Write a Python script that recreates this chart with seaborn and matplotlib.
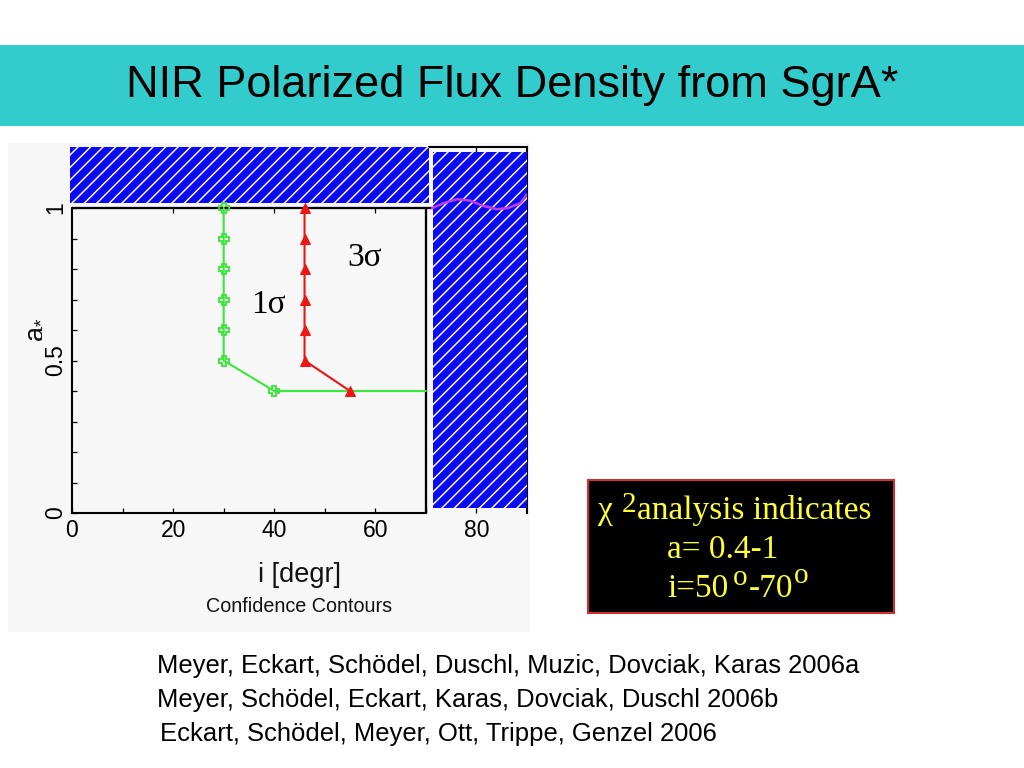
import matplotlib
matplotlib.use("Agg")
import matplotlib.pyplot as plt
from matplotlib.patches import Rectangle
import pandas as pd
import seaborn as sns

# ---------------------------------------------------------------------------
# Data: confidence contours in the (i, a*) plane
# ---------------------------------------------------------------------------
inc_1sig = [30, 30, 30, 30, 30, 30, 40, 70]
spin_1sig = [1.0, 0.9, 0.8, 0.7, 0.6, 0.5, 0.4, 0.4]
inc_3sig = [46, 46, 46, 46, 46, 46, 55]
spin_3sig = [1.0, 0.9, 0.8, 0.7, 0.6, 0.5, 0.4]

# magenta curve over the excluded high-inclination region
inc_wave = [71.2, 73.5, 76.2, 78.8, 81.3, 84.1, 86.3, 88.7, 90.0]
spin_wave = [0.999, 1.016, 1.029, 1.024, 1.007, 0.996, 1.000, 1.016, 1.045]

# excluded (hatched) regions: (i_min, i_max, a_min, a_max)
excl_top = (-0.4, 70.6, 1.017, 1.2)
excl_right = (71.5, 90.0, 0.016, 1.184)

x_major = [0, 20, 40, 60, 80]
x_minor = [10, 30, 50, 70]
y_major = [0, 0.5, 1]
y_minor = [0.1, 0.2, 0.3, 0.4, 0.6, 0.7, 0.8, 0.9]

title = "NIR Polarized Flux Density from SgrA*"
refs = [
    "Meyer, Eckart, Schödel, Duschl, Muzic, Dovciak, Karas 2006a",
    "Meyer, Schödel, Eckart, Karas, Dovciak, Duschl 2006b",
    "Eckart, Schödel, Meyer, Ott, Trippe, Genzel 2006",
]

GREEN = "#3CE63C"
RED = "#EE1515"
BLUE = "#0A0AF2"
TEAL = "#33CCCC"
YELLOW = "#FFFF33"

sns.set_theme(style="ticks")
plt.rcParams["font.family"] = ["Liberation Sans", "DejaVu Sans"]
plt.rcParams["mathtext.default"] = "regular"
plt.rcParams["hatch.linewidth"] = 0.7
plt.rcParams["text.color"] = "black"
plt.rcParams["axes.labelcolor"] = "black"

DPI = 150
fig = plt.figure(figsize=(1024 / DPI, 768 / DPI), dpi=DPI)
W, H = 1024, 768


def fx(px):
    return px / W


def fy(py):
    return 1 - py / H


# slide decorations
fig.patches.append(Rectangle((0, fy(126)), 1, 81 / H, transform=fig.transFigure,
                             facecolor=TEAL, edgecolor="none", zorder=-2))
fig.patches.append(Rectangle((fx(8), fy(632)), 522 / W, 489 / H, transform=fig.transFigure,
                             facecolor="#F7F7F7", edgecolor="none", zorder=-2))
fig.text(0.5, fy(85), title, ha="center", va="center", fontsize=21.7, color="black")

# ---------------------------------------------------------------------------
# Confidence contour plot
# ---------------------------------------------------------------------------
ax = fig.add_axes([fx(72), fy(513), 455 / W, 366 / H])
ax.set_facecolor("none")

sns.lineplot(x=inc_1sig, y=spin_1sig, sort=False, estimator=None, ax=ax,
             color=GREEN, lw=1.0, marker="P", markevery=list(range(7)),
             ms=5, mfc="none", mec=GREEN, mew=0.9, zorder=4)
sns.lineplot(x=inc_3sig, y=spin_3sig, sort=False, estimator=None, ax=ax,
             color=RED, lw=1.0, marker="^", ms=4.5, mfc=RED, mec=RED,
             mew=0.5, zorder=4)
sns.lineplot(x=inc_wave, y=spin_wave, sort=False, estimator=None, ax=ax,
             color="#C23CEE", lw=1.2, zorder=5)

for i0, i1, a0, a1 in (excl_top, excl_right):
    ax.add_patch(Rectangle((i0, a0), i1 - i0, a1 - a0, facecolor=BLUE,
                           edgecolor="white", hatch="////", linewidth=0,
                           zorder=3, clip_on=False))

# frame of the allowed region
ax.hlines(1.0, 0, 71.3, color="black", lw=1.1, zorder=2.6)
ax.vlines(70, 0, 1.0, color="black", lw=1.1, zorder=2.6)
ax.vlines([20, 40, 60], 0.984, 1.0, color="black", lw=0.6, zorder=2.6)
ax.vlines([80], 1.184, 1.2, color="black", lw=0.6, zorder=2.6)

ax.set_xlim(0, 90)
ax.set_ylim(0, 1.2)
ax.set_xticks(x_major)
ax.set_xticks(x_minor, minor=True)
ax.set_yticks(y_major)
ax.set_yticks(y_minor, minor=True)
ax.set_xticklabels([str(v) for v in x_major])
ax.set_yticklabels(["0", "0.5", "1"])

for side in ("left", "bottom", "top", "right"):
    ax.spines[side].set_linewidth(1.0)
    ax.spines[side].set_color("black")
ax.spines["left"].set_bounds(0, 1.0)
ax.spines["bottom"].set_bounds(0, 70)
ax.spines["top"].set_bounds(70.7, 90)
ax.spines["right"].set_bounds(0, 1.2)

ax.tick_params(which="both", direction="in", top=False, right=False,
               width=0.6, colors="black", labelsize=11)
ax.tick_params(which="major", length=2.6)
ax.tick_params(which="minor", length=2.6)
ax.tick_params(axis="x", pad=3)
ax.tick_params(axis="y", labelrotation=90, pad=2.5)
for lab in ax.get_yticklabels():
    lab.set_va("center")

ax.set_xlabel("")
ax.set_ylabel("")
ax.text(0.5, (513 - 575) / 366, "i [degr]", transform=ax.transAxes,
        ha="center", va="center", fontsize=13, color="#111111")
ax.text(0.5, (513 - 607) / 366, "Confidence Contours", transform=ax.transAxes,
        ha="center", va="center", fontsize=9.5, color="#111111")
ax.text((33 - 72) / 455, 0.5, "a${}_{*}$", transform=ax.transAxes, rotation=90,
        ha="center", va="center", fontsize=13, color="#111111")

ax.text(57.8, 0.836, "3σ", ha="center", va="center", fontsize=16,
        family="Liberation Serif", color="black", zorder=6)
ax.text(38.8, 0.682, "1σ", ha="center", va="center", fontsize=16,
        family="Liberation Serif", color="black", zorder=6)

# ---------------------------------------------------------------------------
# Result box
# ---------------------------------------------------------------------------
fig.patches.append(Rectangle((fx(588), fy(613)), 306 / W, 133 / H,
                             transform=fig.transFigure, facecolor="black",
                             edgecolor="#D03030", linewidth=1.0, zorder=1))
serif = dict(family="Liberation Serif", color=YELLOW, va="baseline", ha="left")
fig.text(fx(598), fy(519), "χ", fontsize=16, **serif)
fig.text(fx(622), fy(512), "2", fontsize=14, **serif)
fig.text(fx(637), fy(519), "analysis indicates", fontsize=16, **serif)
fig.text(fx(667), fy(558), "a= 0.4-1", fontsize=16, **serif)
fig.text(fx(667), fy(597), "i=50", fontsize=16, **serif)
fig.text(fx(733), fy(585), "o", fontsize=14, **serif)
fig.text(fx(749), fy(597), "-70", fontsize=16, **serif)
fig.text(fx(794), fy(583), "o", fontsize=14, **serif)

# references
for txt, x, y in zip(refs, (157, 157, 160), (666, 700, 734)):
    fig.text(fx(x), fy(y), txt, ha="left", va="center", fontsize=12.3, color="black")

fig.savefig("out.png", dpi=DPI)
plt.close(fig)
